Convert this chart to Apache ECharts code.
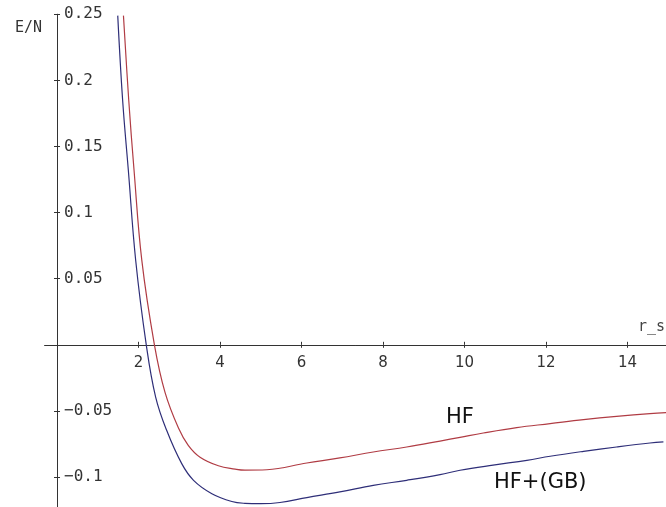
<!DOCTYPE html>
<html>
<head>
<meta charset="utf-8">
<script src="https://cdn.jsdelivr.net/npm/echarts@6/dist/echarts.min.js"></script>
<style>
  html, body { margin: 0; padding: 0; background: #ffffff; }
  #chart { width: 666px; height: 507px; }
</style>
</head>
<body>
<div id="chart"></div>
<script>
// Energy per particle E/N versus r_s, Hartree-Fock and HF with Gell-Mann–Brueckner correlation
const rsHF = [1.63, 1.76, 1.89, 2.08, 2.39, 2.65, 2.98, 3.22, 3.51, 3.96, 4.37, 4.61, 5.15, 6.13, 6.94, 7.76, 8.58, 9.40, 9.89, 10.46, 11.28, 12.10, 12.92, 13.73, 14.55, 15.0];
const eHF  = [0.249, 0.185, 0.132, 0.064, 0.0, -0.036, -0.063, -0.076, -0.085, -0.0915, -0.0940, -0.0948, -0.0945, -0.0894, -0.0856, -0.0811, -0.0773, -0.0728, -0.0700, -0.0667, -0.0626, -0.0596, -0.0566, -0.0541, -0.0520, -0.0512];

const rsGB = [1.49, 1.61, 1.75, 1.93, 2.19, 2.42, 2.69, 3.06, 3.35, 3.80, 4.29, 4.61, 5.0, 5.47, 6.13, 6.94, 7.76, 8.58, 9.40, 9.89, 10.7, 11.53, 12.10, 12.92, 13.73, 14.55, 14.88];
const eGB  = [0.249, 0.185, 0.132, 0.064, 0.0, -0.0395, -0.0647, -0.0899, -0.1025, -0.1126, -0.1185, -0.1199, -0.1202, -0.1193, -0.1156, -0.1113, -0.1063, -0.1025, -0.0982, -0.0949, -0.0910, -0.0874, -0.0843, -0.0806, -0.0773, -0.0743, -0.0735];

const xTicks = [2, 4, 6, 8, 10, 12, 14];
const yTicks = [-0.1, -0.05, 0.05, 0.1, 0.15, 0.2, 0.25];

const xMin = -0.3, xMax = 15, yMin = -0.125, yMax = 0.25;

// plot area
const gLeft = 44.8, gTop = 14.3, gWidth = 623.5, gHeight = 495.75;
// distance from the grid's bottom / right edge to the zero lines
const zeroFromBottom = gHeight * (0 - yMin) / (yMax - yMin);
const zeroFromRight = gWidth * (xMax - 0) / (xMax - xMin);

const axisColor = '#333333';
const monoFont = '"DejaVu Sans Mono", monospace';
const sansFont = '"DejaVu Sans", sans-serif';

const zip = (xs, ys) => xs.map((x, i) => [x, ys[i]]);
const fmt = v => String(v).replace('-', '\u2212');

// Axis lines through the origin; each is drawn twice (one per side) so the short ticks cross the line.
function xLineAxis(position, yIndex) {
  return {
    type: 'value', min: xMin, max: xMax, position: position,
    splitLine: { show: false },
    axisLine: { show: true, onZero: true, onZeroAxisIndex: yIndex, lineStyle: { color: axisColor, width: 1 } },
    axisTick: { show: true, length: 3, inside: false, customValues: xTicks, lineStyle: { color: axisColor } },
    axisLabel: { show: false }
  };
}
function yLineAxis(position, xIndex) {
  return {
    type: 'value', min: yMin, max: yMax, position: position,
    splitLine: { show: false },
    axisLine: { show: true, onZero: true, onZeroAxisIndex: xIndex, lineStyle: { color: axisColor, width: 1 } },
    axisTick: { show: true, length: 3, inside: false, customValues: yTicks, lineStyle: { color: axisColor } },
    axisLabel: { show: false }
  };
}

// Label-only axes, shifted onto the zero lines
const xLabelAxis = {
  type: 'value', min: xMin, max: xMax, position: 'bottom', offset: -zeroFromBottom,
  splitLine: { show: false },
  axisLine: { show: false, onZero: false },
  axisTick: { show: false },
  axisLabel: { show: true, customValues: xTicks, margin: 11, color: '#333', fontFamily: sansFont, fontSize: 15 }
};
const yLabelAxis = {
  type: 'value', min: yMin, max: yMax, position: 'right', offset: -zeroFromRight,
  splitLine: { show: false },
  axisLine: { show: false, onZero: false },
  axisTick: { show: false },
  axisLabel: { show: true, customValues: yTicks, margin: 7, color: '#333', fontFamily: monoFont, fontSize: 16, formatter: fmt }
};

const chart = echarts.init(document.getElementById('chart'), null, { renderer: 'canvas' });

chart.setOption({
  animation: false,
  backgroundColor: '#ffffff',
  grid: { left: gLeft, top: gTop, width: gWidth, height: gHeight, containLabel: false, outerBoundsMode: 'none' },
  xAxis: [ xLineAxis('bottom', 1), xLineAxis('top', 0), xLabelAxis ],
  yAxis: [ yLineAxis('left', 0), yLineAxis('right', 1), yLabelAxis ],
  series: [
    {
      name: 'HF', type: 'line', xAxisIndex: 0, yAxisIndex: 0,
      data: zip(rsHF, eHF), showSymbol: false, smooth: 0.4, clip: true,
      lineStyle: { color: '#b03c44', width: 1.2 }
    },
    {
      name: 'HF+(GB)', type: 'line', xAxisIndex: 0, yAxisIndex: 0,
      data: zip(rsGB, eGB), showSymbol: false, smooth: 0.4, clip: true,
      lineStyle: { color: '#2e2e78', width: 1.2 }
    }
  ],
  graphic: [
    { type: 'text', left: 15, top: 21, style: { text: 'E/N', font: '15px ' + monoFont, fill: '#333' } },
    { type: 'text', left: 638, top: 320, style: { text: 'r_s', font: '15px ' + monoFont, fill: '#444' } },
    { type: 'text', left: 446, top: 407, style: { text: 'HF', font: '21px ' + sansFont, fill: '#111' } },
    { type: 'text', left: 494, top: 472, style: { text: 'HF+(GB)', font: '21px ' + sansFont, fill: '#111' } }
  ]
});
</script>
</body>
</html>
